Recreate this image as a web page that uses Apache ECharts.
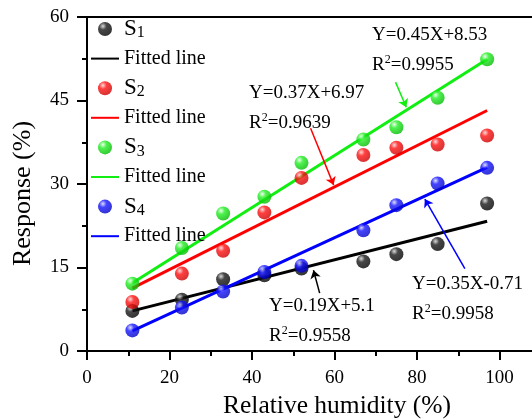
<!DOCTYPE html>
<html>
<head>
<meta charset="utf-8">
<script src="https://cdn.jsdelivr.net/npm/echarts@6/dist/echarts.min.js"></script>
<style>
html, body { margin: 0; padding: 0; background: #fff; }
#main { width: 532px; height: 420px; }
</style>
</head>
<body>
<div id="main"></div>
<script>
/* 相对湿度与响应 */
var humidity = [11, 23, 33, 43, 52, 67, 75, 85, 97];
var s1 = [7.2, 9.2, 12.9, 13.6, 14.8, 16.1, 17.4, 19.2, 26.5];
var s2 = [8.8, 13.9, 18.0, 24.9, 31.1, 35.2, 36.5, 37.1, 38.7];
var s3 = [12.1, 18.5, 24.7, 27.7, 33.8, 38.0, 40.2, 45.5, 52.4];
var s4 = [3.7, 7.8, 10.7, 14.2, 15.3, 21.7, 26.2, 30.1, 32.9];

/* 拟合线两端 */
var fitX = [11, 97];
var fit1 = [7.2, 23.3];
var fit2 = [11.3, 43.2];
var fit3 = [12.2, 52.4];
var fit4 = [3.6, 33.0];

/* 箭头 (起点, 终点) */
var arrow1 = [[56.4, 10.4], [54.9, 14.5]];
var arrow2 = [[54.2, 40.0], [59.8, 29.8]];
var arrow3 = [[74.8, 48.3], [77.4, 43.8]];
var arrow4 = [[91.6, 14.8], [81.9, 27.3]];

/* 刻度 */
var xTicks = [0, 20, 40, 60, 80, 100, 120];
var yTicks = [0, 15, 30, 45, 60];

var eq1 = ['Y=0.19X+5.1', '0.9558'];
var eq2 = ['Y=0.37X+6.97', '0.9639'];
var eq3 = ['Y=0.45X+8.53', '0.9955'];
var eq4 = ['Y=0.35X-0.71', '0.9958'];

var FONT = 'Liberation Serif, Times New Roman, serif';

function zip(xs, ys) {
    var out = [];
    for (var i = 0; i < xs.length; i++) {
        out.push([xs[i], ys[i]]);
    }
    return out;
}

function ball(light, base, dark) {
    return {
        type: 'radial', x: 0.35, y: 0.3, r: 0.75,
        colorStops: [
            {offset: 0, color: light},
            {offset: 0.35, color: base},
            {offset: 1, color: dark}
        ]
    };
}

function scatter(name, ys, color) {
    return {
        name: name,
        type: 'scatter',
        data: zip(humidity, ys),
        symbolSize: 14,
        itemStyle: {color: color},
        z: 5
    };
}

function fitLine(name, ys, color, arrow) {
    return {
        name: name,
        type: 'line',
        data: zip(fitX, ys),
        symbol: 'none',
        lineStyle: {color: color, width: 3},
        itemStyle: {color: color},
        z: 3,
        markLine: {
            silent: true,
            animation: false,
            symbol: ['none', 'arrow'],
            symbolSize: 8,
            label: {show: false},
            lineStyle: {color: color, width: 1.5, type: 'solid'},
            data: [[{coord: arrow[0]}, {coord: arrow[1]}]]
        }
    };
}

function eqText(lines, x, y) {
    return [{
        type: 'text', left: x, top: y - 9,
        style: {text: lines[0], fontSize: 19, fontFamily: FONT, fill: '#000'}
    }, {
        type: 'text', left: x, top: y + 19,
        style: {
            text: '{n|R}{sup|2}{n|=' + lines[1] + '}',
            rich: {
                n: {fontSize: 19, fontFamily: FONT, fill: '#000', lineHeight: 22},
                sup: {fontSize: 12, fontFamily: FONT, fill: '#000', lineHeight: 12, verticalAlign: 'top'}
            }
        }
    }];
}

var legendNames = {
    s1: '{s|S}{sub|1}', fit1: 'Fitted line',
    s2: '{s|S}{sub|2}', fit2: 'Fitted line',
    s3: '{s|S}{sub|3}', fit3: 'Fitted line',
    s4: '{s|S}{sub|4}', fit4: 'Fitted line'
};

function legendItem(name) {
    if (name.indexOf('fit') === 0) {
        return {name: name, itemStyle: {opacity: 0}};
    }
    return {name: name};
}

var myChart = echarts.init(document.getElementById('main'));
var option = {
    backgroundColor: '#fff',
    animation: false,
    grid: {left: 87, top: 17, width: 495, height: 334, outerBoundsMode: 'none'},
    legend: {
        orient: 'vertical',
        left: 85,
        top: 12,
        itemWidth: 28,
        itemHeight: 14,
        itemGap: 7.6,
        data: ['s1', 'fit1', 's2', 'fit2', 's3', 'fit3', 's4', 'fit4'].map(legendItem),
        formatter: function (name) {
            return legendNames[name];
        },
        textStyle: {
            color: '#000', fontFamily: FONT, fontSize: 20, lineHeight: 20,
            rich: {
                s: {fontSize: 23, fontFamily: FONT, color: '#000', lineHeight: 24},
                sub: {fontSize: 16, fontFamily: FONT, color: '#000', lineHeight: 16, verticalAlign: 'bottom'}
            }
        },
        selectedMode: false
    },
    xAxis: [{
        type: 'value',
        min: xTicks[0],
        max: xTicks[xTicks.length - 1],
        interval: 20,
        name: 'Relative humidity (%)',
        nameLocation: 'middle',
        nameGap: 41,
        nameTextStyle: {color: '#000', fontFamily: FONT, fontSize: 25.5, padding: [0, 0, 0, 5]},
        axisLine: {lineStyle: {color: '#000', width: 2}},
        axisTick: {length: 9, lineStyle: {width: 2}},
        minorTick: {show: true, splitNumber: 2, length: 5, lineStyle: {color: '#000', width: 2}},
        axisLabel: {color: '#000', fontFamily: FONT, fontSize: 19, margin: 18},
        splitLine: {show: false}
    }, {
        type: 'value',
        position: 'top',
        min: xTicks[0],
        max: xTicks[xTicks.length - 1],
        axisLine: {lineStyle: {color: '#000', width: 2}},
        axisTick: {show: false},
        axisLabel: {show: false},
        splitLine: {show: false}
    }],
    yAxis: {
        type: 'value',
        min: yTicks[0],
        max: yTicks[yTicks.length - 1],
        interval: 15,
        name: 'Response (%)',
        nameLocation: 'middle',
        nameGap: 51,
        nameTextStyle: {color: '#000', fontFamily: FONT, fontSize: 26, padding: [0, 19, 0, 0]},
        axisLine: {show: true, lineStyle: {color: '#000', width: 2}},
        axisTick: {show: true, length: 10, lineStyle: {width: 2}},
        minorTick: {show: true, splitNumber: 2, length: 5, lineStyle: {color: '#000', width: 2}},
        axisLabel: {color: '#000', fontFamily: FONT, fontSize: 19, margin: 18},
        splitLine: {show: false}
    },
    graphic: [].concat(
        eqText(eq3, 372, 35),
        eqText(eq2, 249, 93),
        eqText(eq1, 269, 306),
        eqText(eq4, 412, 284)
    ),
    series: [
        fitLine('fit1', fit1, '#000000', arrow1),
        fitLine('fit2', fit2, '#ff0000', arrow2),
        fitLine('fit3', fit3, '#11ee11', arrow3),
        fitLine('fit4', fit4, '#0000ff', arrow4),
        scatter('s1', s1, ball('#d0d0d0', '#1a1a1a', '#000000')),
        scatter('s2', s2, ball('#ffd0d0', '#ff1010', '#c80000')),
        scatter('s3', s3, ball('#e6ffe6', '#22ee22', '#00b800')),
        scatter('s4', s4, ball('#d6d6ff', '#1414ff', '#0000c0'))
    ]
};
myChart.setOption(option);
window.addEventListener("resize", function () {
    myChart.resize();
});
</script>
</body>
</html>
